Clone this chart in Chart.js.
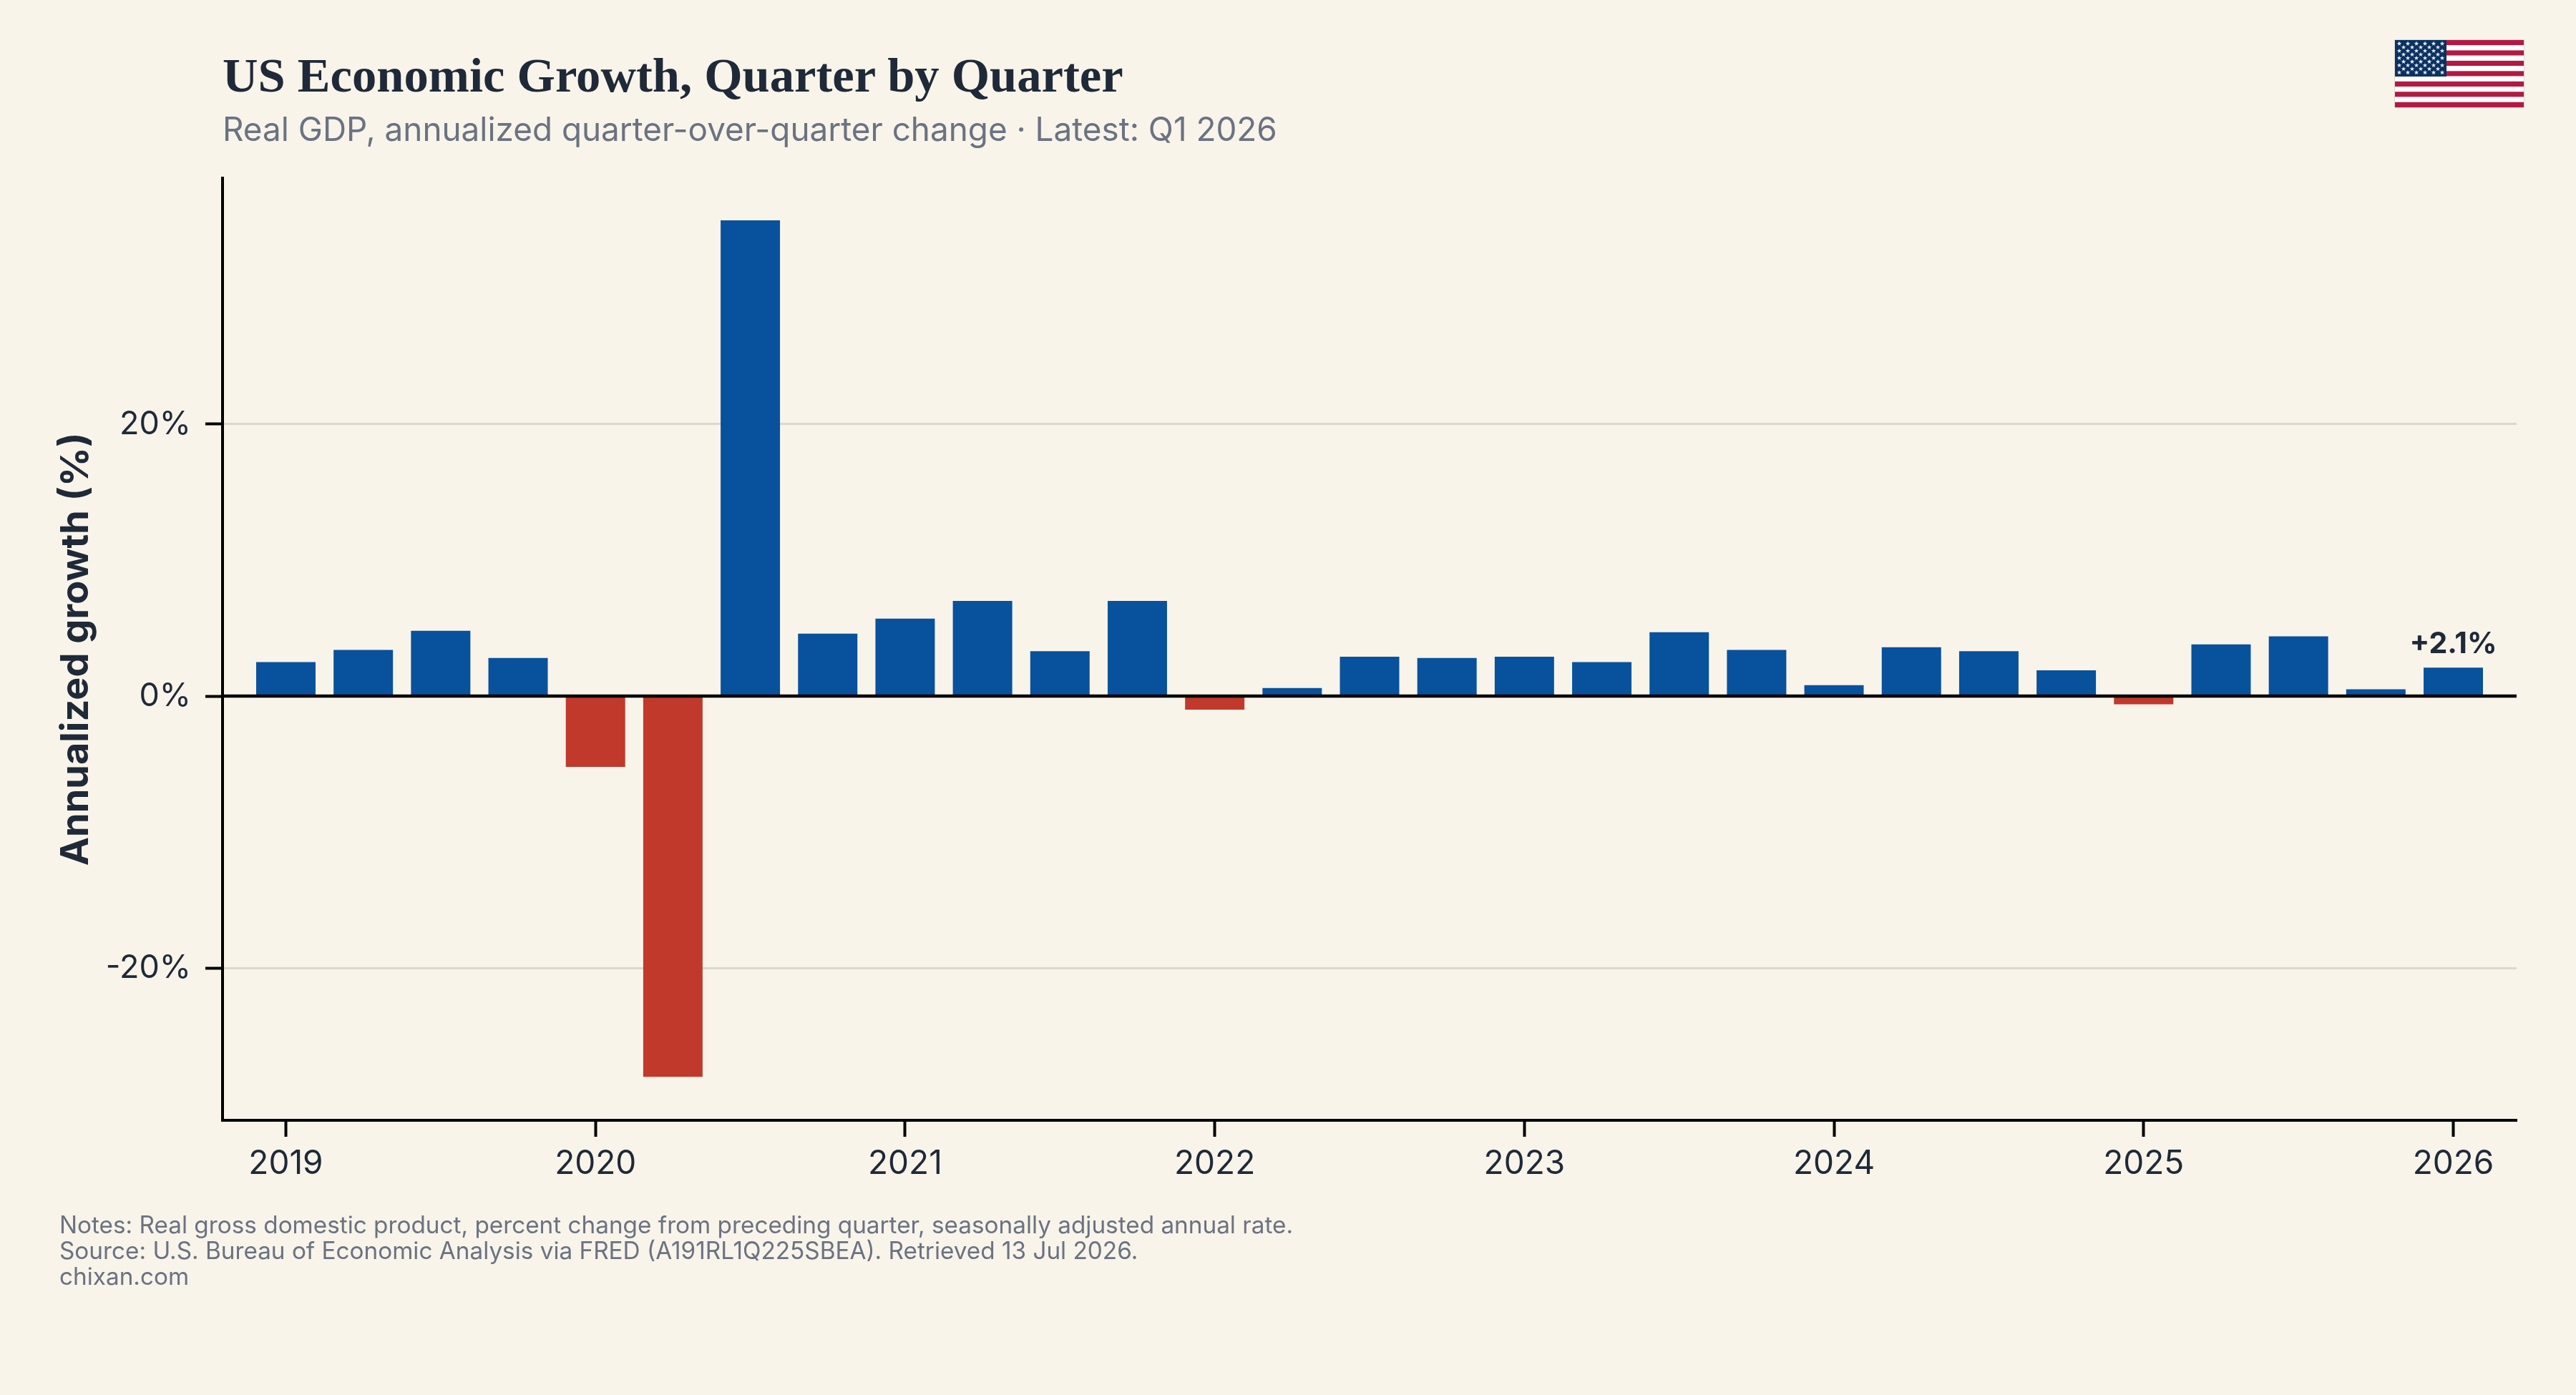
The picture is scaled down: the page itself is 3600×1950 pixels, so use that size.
<!DOCTYPE html>
<html lang="en">
  <head>
    <meta charset="UTF-8" />
    <title>US Economic Growth, Quarter by Quarter</title>
    <script src="https://cdn.jsdelivr.net/npm/chart.js"></script>
    <style>
      body {
        margin: 0;
        background: #f8f4ea;
        width: 3600px;
        height: 1950px;
        position: relative;
        overflow: hidden;
        font-family: "Inter", sans-serif;
      }
      canvas {
        position: absolute;
        left: 0;
        top: 0;
      }
      .title {
        position: absolute;
        left: 311px;
        top: 66px;
        font: bold 68.6px "Liberation Serif", serif;
        color: #1f2937;
        white-space: nowrap;
      }
      .subtitle {
        position: absolute;
        left: 311px;
        top: 153px;
        font-size: 45.85px;
        color: #6b7280;
        white-space: nowrap;
      }
      .notes {
        position: absolute;
        left: 83px;
        top: 1694px;
        font-size: 33.3px;
        line-height: 36px;
        color: #6b7280;
        white-space: nowrap;
      }
      #flag {
        position: absolute;
        left: 3346px;
        top: 55px;
      }
    </style>
  </head>
  <body>
    <canvas id="chartGdp" width="3600" height="1950"></canvas>

    <div class="title">US Economic Growth, Quarter by Quarter</div>
    <div class="subtitle">Real GDP, annualized quarter-over-quarter change · Latest: Q1 2026</div>
    <div class="notes">
      Notes: Real gross domestic product, percent change from preceding quarter, seasonally adjusted annual rate.<br />
      Source: U.S. Bureau of Economic Analysis via FRED (A191RL1Q225SBEA). Retrieved 13 Jul 2026.<br />
      chixan.com
    </div>
    <svg id="flag" width="182" height="96" viewBox="0 0 182 96"></svg>

    <script>
      const quarters = [
        "2019 Q1", "2019 Q2", "2019 Q3", "2019 Q4",
        "2020 Q1", "2020 Q2", "2020 Q3", "2020 Q4",
        "2021 Q1", "2021 Q2", "2021 Q3", "2021 Q4",
        "2022 Q1", "2022 Q2", "2022 Q3", "2022 Q4",
        "2023 Q1", "2023 Q2", "2023 Q3", "2023 Q4",
        "2024 Q1", "2024 Q2", "2024 Q3", "2024 Q4",
        "2025 Q1", "2025 Q2", "2025 Q3", "2025 Q4",
        "2026 Q1",
      ];
      const growth = [
        2.5, 3.4, 4.8, 2.8,
        -5.2, -28.0, 35.0, 4.6,
        5.7, 7.0, 3.3, 7.0,
        -1.0, 0.6, 2.9, 2.8,
        2.9, 2.5, 4.7, 3.4,
        0.8, 3.6, 3.3, 1.9,
        -0.6, 3.8, 4.4, 0.5,
        2.1,
      ];
      const yearLabels = ["2019", "2020", "2021", "2022", "2023", "2024", "2025", "2026"];
      const yTicks = [-20, 0, 20];

      const BLUE = "#08519c";
      const RED = "#c0392b";
      const INK = "#1f2937";

      // black zero line on top of the bars, plus the label on the latest bar
      const overlay = {
        id: "overlay",
        afterDatasetsDraw(chart) {
          const { ctx, chartArea, scales } = chart;
          const zero = scales.y.getPixelForValue(0);
          ctx.save();
          ctx.strokeStyle = "#000";
          ctx.lineWidth = 4.5;
          ctx.beginPath();
          ctx.moveTo(chartArea.left, zero);
          ctx.lineTo(chartArea.right, zero);
          ctx.stroke();

          const last = growth.length - 1;
          ctx.fillStyle = INK;
          ctx.font = "bold 41px Inter";
          ctx.textAlign = "center";
          ctx.textBaseline = "alphabetic";
          ctx.fillText(
            "+" + growth[last].toFixed(1) + "%",
            scales.x.getPixelForValue(last),
            scales.y.getPixelForValue(growth[last]) - 20
          );
          ctx.restore();
        },
      };

      new Chart(document.getElementById("chartGdp"), {
        type: "bar",
        data: {
          datasets: [
            {
              label: "Annualized growth",
              data: quarters.map((q, i) => ({ x: i, y: growth[i] })),
              backgroundColor: growth.map((v) => (v < 0 ? RED : BLUE)),
              barPercentage: 0.767,
              categoryPercentage: 1,
              borderWidth: 0,
            },
          ],
        },
        plugins: [overlay],
        options: {
          responsive: false,
          animation: false,
          layout: { padding: { top: 249, right: 83, left: 0, bottom: 0 } },
          plugins: {
            legend: { display: false },
            title: { display: false },
            tooltip: { enabled: false },
          },
          scales: {
            x: {
              type: "linear",
              offset: false,
              min: -0.818,
              max: 28.818,
              afterFit(scale) {
                scale.height = 384;
              },
              border: { display: true, color: "#000", width: 4 },
              grid: {
                offset: false,
                drawOnChartArea: false,
                drawTicks: true,
                tickColor: "#000",
                tickWidth: 4,
                tickLength: 23,
              },
              ticks: {
                stepSize: 4,
                includeBounds: false,
                maxRotation: 0,
                autoSkip: false,
                color: INK,
                padding: 11,
                font: { family: "Inter", size: 46 },
                callback: (value) => yearLabels[value / 4],
              },
            },
            y: {
              min: -31.2,
              max: 38.1,
              afterFit(scale) {
                scale.width = 311;
              },
              afterBuildTicks(scale) {
                scale.ticks = yTicks.map((value) => ({ value }));
              },
              border: { display: true, color: "#000", width: 4 },
              grid: {
                color: "#dcd8cb",
                lineWidth: 3,
                tickColor: "#000",
                tickWidth: 4,
                tickLength: 24,
              },
              ticks: {
                color: INK,
                padding: 20,
                font: { family: "Inter", size: 45 },
                callback: (value) => value + "%",
              },
              title: {
                display: true,
                text: "Annualized growth (%)",
                color: INK,
                font: { family: "Inter", size: 54, weight: "bold" },
                padding: { top: 74, bottom: 0 },
              },
            },
          },
        },
      });

      // flag in the top right corner
      const flag = document.getElementById("flag");
      const stripeCount = 13;
      let flagMarkup = '<rect x="0" y="0" width="182" height="96" fill="#e0d8d0"/>';
      for (let i = 0; i < stripeCount; i++) {
        const h = 94 / stripeCount;
        flagMarkup += `<rect x="1" y="${1 + i * h}" width="180" height="${h}" fill="${i % 2 ? "#ffffff" : "#b31942"}"/>`;
      }
      flagMarkup += '<rect x="1" y="1" width="72" height="51" fill="#0a3161"/>';
      const starShape = [];
      for (let k = 0; k < 10; k++) {
        const r = k % 2 ? 1.4 : 3.4;
        const a = -Math.PI / 2 + (k * Math.PI) / 5;
        starShape.push((r * Math.cos(a)).toFixed(2) + "," + (r * Math.sin(a)).toFixed(2));
      }
      for (let row = 0; row < 9; row++) {
        const count = row % 2 ? 5 : 6;
        for (let col = 0; col < count; col++) {
          const sx = 7 + (row % 2 ? 6 : 0) + col * 12;
          const sy = 6 + row * 5.05;
          flagMarkup += `<polygon transform="translate(${sx} ${sy})" points="${starShape.join(" ")}" fill="#e8ecf2"/>`;
        }
      }
      flag.innerHTML = flagMarkup;
    </script>
  </body>
</html>
